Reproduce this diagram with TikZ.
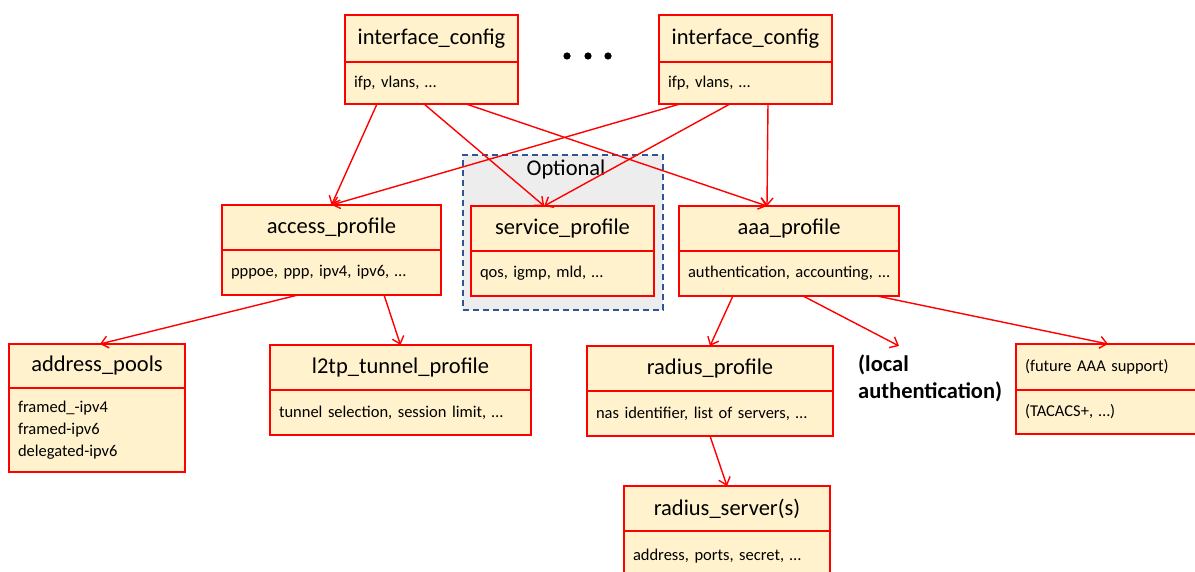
\documentclass[tikz,border=0pt]{standalone}
\usepackage{fontspec}
\setmainfont{Carlito}
\usetikzlibrary{arrows.meta,calc}
\definecolor{boxfill}{HTML}{FFF2CC}
\definecolor{boxline}{HTML}{FF0000}
\definecolor{optfill}{HTML}{EDEDED}
\definecolor{optline}{HTML}{2F5597}
\begin{document}
\begin{tikzpicture}[x=1pt,y=-1pt,
  hdr/.style={draw=boxline, fill=boxfill, line width=2.5pt, outer sep=0pt, inner sep=0pt, anchor=north west, font=\fontsize{22.5}{26}\selectfont},
  bdy/.style={draw=boxline, fill=boxfill, line width=2.5pt, outer sep=0pt, inner xsep=9pt, inner ysep=0pt, anchor=north west, align=left, font=\fontsize{16.5}{22}\selectfont},
  conn/.style={draw=boxline, line width=1.4pt, -{Straight Barb[length=7pt,width=12pt,line width=1.4pt]}},
  optbox/.style={draw=optline, fill=optfill, line width=1.3pt, dash pattern=on 6pt off 4pt, outer sep=0pt, inner sep=0pt, anchor=north west},
  dotmark/.style={fill=black}
]
\useasboundingbox (0,0) rectangle (1195,572);

% optional region
\node[optbox, minimum width=200, minimum height=155] (opt) at (463,155) {};
\node[font=\fontsize{22.5}{26}\selectfont, anchor=center] (optlabel) at (566,170) {Optional};

% interface configs
\node[hdr, minimum width=173, minimum height=47] (icL) at (345,15) {interface\_config};
\node[bdy, minimum height=42, text width=155] (icLb) at (icL.south west) {ifp, vlans, …};
\node[hdr, minimum width=173, minimum height=47] (icR) at (659,15) {interface\_config};
\node[bdy, minimum height=42, text width=155] (icRb) at (icR.south west) {ifp, vlans, …};

% dots
\fill[dotmark] (567,56) circle (3.6);
\fill[dotmark] (588,56) circle (3.6);
\fill[dotmark] (608,56) circle (3.6);

% profiles
\node[hdr, minimum width=219, minimum height=45] (acc) at (222,205) {access\_profile};
\node[bdy, minimum height=45, text width=201] (accb) at (acc.south west) {pppoe, ppp, ipv4, ipv6, …};
\node[hdr, minimum width=183, minimum height=45] (srv) at (471,206) {service\_profile};
\node[bdy, minimum height=45, text width=165] (srvb) at (srv.south west) {qos, igmp, mld, …};
\node[hdr, minimum width=220, minimum height=45] (aaa) at (679,206) {aaa\_profile};
\node[bdy, minimum height=45, text width=202] (aaab) at (aaa.south west) {authentication, accounting, …};

% lower row
\node[hdr, minimum width=176, minimum height=44] (addr) at (9,344) {address\_pools};
\node[bdy, minimum height=84, text width=158] (addrb) at (addr.south west) {framed\_-ipv4\\framed-ipv6\\delegated-ipv6};
\node[hdr, minimum width=261, minimum height=45] (l2tp) at (270,345) {l2tp\_tunnel\_profile};
\node[bdy, minimum height=45, text width=243] (l2tpb) at (l2tp.south west) {tunnel selection, session limit, …};
\node[hdr, minimum width=246, minimum height=45] (radp) at (587,346) {radius\_profile};
\node[bdy, minimum height=45, text width=228] (radpb) at (radp.south west) {nas identifier, list of servers, …};
\node[anchor=north west, inner sep=0pt, align=left, font=\fontsize{22.5}{27}\selectfont\bfseries] (local) at (858,355) {(local\\authentication)};
\node[bdy, minimum height=46, text width=166] (fut) at (1016,344) {(future AAA support)};
\node[bdy, minimum height=44, text width=166] (futb) at (fut.south west) {(TACACS+, …)};
\node[hdr, minimum width=206, minimum height=45] (rads) at (624,486) {radius\_server(s)};
\node[bdy, minimum height=50, text width=188] (radsb) at (rads.south west) {address, ports, secret, …};

% connectors
\draw[conn] ($(icLb.south west)!0.185!(icLb.south east)$) -- (acc.north);
\draw[conn] ($(icLb.south west)!0.457!(icLb.south east)$) -- ($(srv.north west)!0.40!(srv.north east)$);
\draw[conn] ($(icLb.south west)!0.70!(icLb.south east)$) -- ($(aaa.north west)!0.40!(aaa.north east)$);
\draw[conn] ($(icRb.south west)!0.121!(icRb.south east)$) -- (acc.north);
\draw[conn] ($(icRb.south west)!0.41!(icRb.south east)$) -- ($(srv.north west)!0.40!(srv.north east)$);
\draw[conn] ($(icRb.south west)!0.63!(icRb.south east)$) -- ($(aaa.north west)!0.40!(aaa.north east)$);
\draw[conn] ($(accb.south west)!0.347!(accb.south east)$) -- ($(addr.north west)!0.517!(addr.north east)$);
\draw[conn] ($(accb.south west)!0.74!(accb.south east)$) -- (l2tp.north);
\draw[conn] ($(aaab.south west)!0.245!(aaab.south east)$) -- (radp.north);
\draw[conn] ($(aaab.south west)!0.564!(aaab.south east)$) -- ($(local.north west)+(41,-9)$);
\draw[conn] ($(aaab.south west)!0.90!(aaab.south east)$) -- ($(fut.north west)+(92,0)$);
\draw[conn] (radpb.south) -- (rads.north);
\end{tikzpicture}
\end{document}
